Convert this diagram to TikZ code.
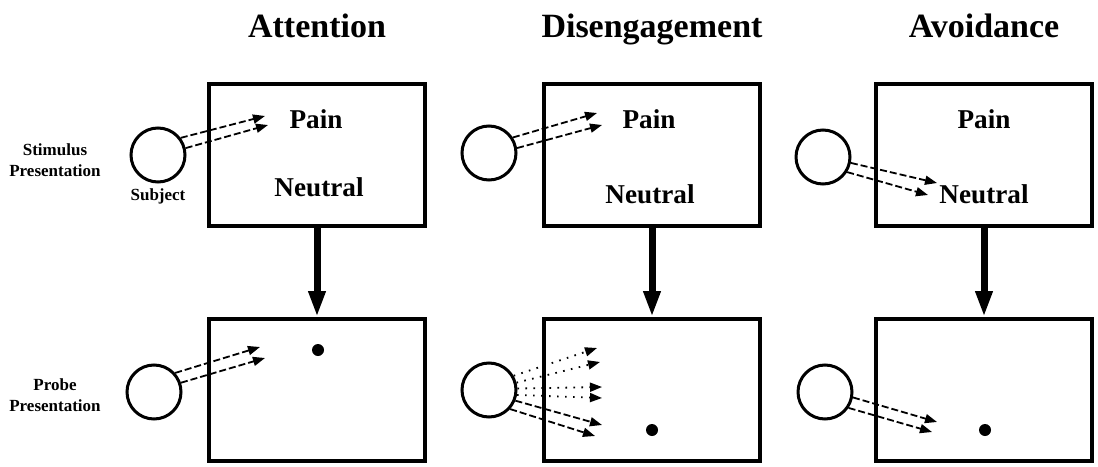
\documentclass[tikz,border=0pt]{standalone}
\usepackage{fontspec}
\setmainfont{Liberation Serif}
\usetikzlibrary{arrows.meta, positioning}

\begin{document}
\begin{tikzpicture}[x=0.5pt, y=-0.5pt,
  panel/.style={rectangle, draw, line width=2pt, minimum width=108pt, minimum height=71pt},
  eye/.style={circle, draw, line width=1.5pt, minimum size=27pt, inner sep=0pt},
  probe/.style={circle, fill, minimum size=6pt, inner sep=0pt},
  word/.style={font=\fontsize{13.6}{16}\selectfont\bfseries, anchor=base},
  title/.style={font=\fontsize{17}{20}\selectfont\bfseries, anchor=base},
  side/.style={font=\fontsize{8.5}{10.5}\selectfont\bfseries, align=center},
  look/.style={-{Triangle[length=6pt, width=4.5pt]}, line width=0.9pt, dash pattern=on 3.5pt off 1.5pt},
  glance/.style={-{Triangle[length=6pt, width=4.5pt]}, line width=0.9pt, dash pattern=on 0.8pt off 3.2pt},
  flow/.style={-{Triangle[length=13pt, width=8pt]}, line width=3.5pt}
]
\useasboundingbox (0,0) rectangle (1098,466);

% titles
\node[title] (tatt) at (317,37) {Attention};
\node[title] (tdis) at (652,37) {Disengagement};
\node[title] (tavo) at (984,37) {Avoidance};

% row labels
\node[side] (lstim) at (55,160) {Stimulus\\Presentation};
\node[side] (lprobe) at (55,395) {Probe\\Presentation};
\node[side, anchor=base] (lsubj) at (158,200) {Subject};

% stimulus panels
\node[panel] (att) at (317,155) {};
\node[panel] (dis) at (652,155) {};
\node[panel] (avo) at (984,155) {};
\node[word] (attpain) at (316,128) {Pain};
\node[word] (attneut) at (319,196) {Neutral};
\node[word] (dispain) at (649,128) {Pain};
\node[word] (disneut) at (650,203) {Neutral};
\node[word] (avopain) at (984,128) {Pain};
\node[word] (avoneut) at (984,203) {Neutral};

% probe panels
\node[panel] (attp) at (317,390) {};
\node[panel] (disp) at (652,390) {};
\node[panel] (avop) at (984,390) {};
\node[probe] (dot1) at (318,350) {};
\node[probe] (dot2) at (652,430) {};
\node[probe] (dot3) at (985,430) {};

\draw[flow] (att) -- (attp);
\draw[flow] (dis) -- (disp);
\draw[flow] (avo) -- (avop);

% subjects
\node[eye] (s1) at (158,155) {};
\node[eye] (p1) at (154,392) {};
\node[eye] (s2) at (489,153) {};
\node[eye] (p2) at (489,390) {};
\node[eye] (s3) at (823,157) {};
\node[eye] (p3) at (825,392) {};

% gaze ends
\coordinate (e1a) at (265,116);
\coordinate (e1b) at (268,125);
\coordinate (f1a) at (260,347);
\coordinate (f1b) at (265,358);
\coordinate (e2a) at (597,113);
\coordinate (e2b) at (602,125);
\coordinate (f2a) at (597,348);
\coordinate (f2b) at (600,362);
\coordinate (f2c) at (602,387);
\coordinate (f2d) at (602,398);
\coordinate (f2e) at (602,425);
\coordinate (f2f) at (595,436);
\coordinate (e3a) at (937,183);
\coordinate (e3b) at (928,195);
\coordinate (f3a) at (937,422);
\coordinate (f3b) at (932,432);

\draw[look] (s1.37) -- (e1a);
\draw[look] (s1.14) -- (e1b);
\draw[look] (p1.42) -- (f1a);
\draw[look] (p1.19) -- (f1b);
\draw[look] (s2.33) -- (e2a);
\draw[look] (s2.10) -- (e2b);
\draw[glance] (p2.30) -- (f2a);
\draw[glance] (p2.15) -- (f2b);
\draw[glance] (p2.3) -- (f2c);
\draw[glance] (p2.-10) -- (f2d);
\draw[look] (p2.-22) -- (f2e);
\draw[look] (p2.-42) -- (f2f);
\draw[look] (s3.-12) -- (e3a);
\draw[look] (s3.-32) -- (e3b);
\draw[look] (p3.-11) -- (f3a);
\draw[look] (p3.-34) -- (f3b);
\end{tikzpicture}
\end{document}
